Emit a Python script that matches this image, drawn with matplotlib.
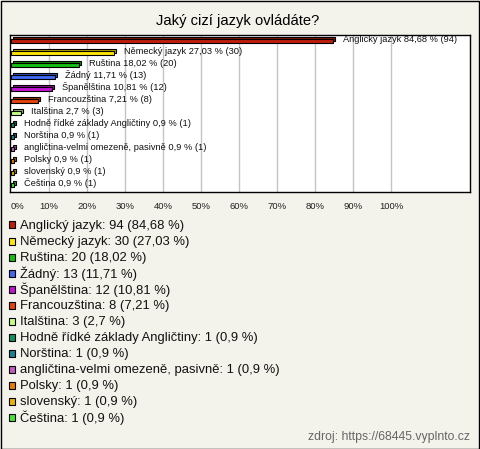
import matplotlib
matplotlib.use('Agg')
import matplotlib.pyplot as plt
import matplotlib.transforms as mtransforms
from matplotlib.patches import Rectangle
import matplotlib.colors as mcolors
import numpy as np

plt.rcParams['font.family'] = ['Liberation Sans', 'DejaVu Sans']

# Data
categories = [
    "Anglický jazyk", "Německý jazyk", "Ruština", "Žádný", "Španělština",
    "Francouzština", "Italština", "Hodně řídké základy Angličtiny", "Norština",
    "angličtina-velmi omezeně, pasivně", "Polsky", "slovenský", "Čeština",
]
counts = [94, 30, 20, 13, 12, 8, 3, 1, 1, 1, 1, 1, 1]
percents = [84.68, 27.03, 18.02, 11.71, 10.81, 7.21, 2.7, 0.9, 0.9, 0.9, 0.9, 0.9, 0.9]
colors = [
    "#bf1d0e", "#ffe60a", "#12bf12", "#4169ee", "#c214d2", "#e2440f", "#c4ff82",
    "#119163", "#1f7f92", "#c25cc4", "#e47c06", "#e4b406", "#45e535",
]
xticks = [0, 10, 20, 30, 40, 50, 60, 70, 80, 90, 100]

title = "Jaký cizí jazyk ovládáte?"
source = "zdroj: https://68445.vyplnto.cz"
bg = "#f3f2eb"

W, H = 480, 449
fig = plt.figure(figsize=(W / 100, H / 100), dpi=100, facecolor=bg)

# outer frame
fig.patches.append(Rectangle((0.5 / W, 0.5 / H), 1 - 1.5 / W, 1 - 1.5 / H,
                             transform=fig.transFigure, fill=False,
                             edgecolor='black', linewidth=1))

fig.text(238 / W, 1 - 21 / H, title, ha='center', va='center', fontsize=10.6)

# plot area in pixels: x 10..470, y 35..192
ax = fig.add_axes([10 / W, 1 - 192 / H, 460 / W, 157 / H])
ax.set_facecolor('white')
n = len(categories)
px_per_pct = 3.8
ax.set_xlim(-1 / px_per_pct, 459 / px_per_pct)
ax.set_ylim(n - 1 + 7.5 / 12, -5.5 / 12)
for s in ax.spines.values():
    s.set_linewidth(1)
    s.set_color('black')
ax.set_xticks(xticks)
ax.set_yticks([])
ax.tick_params(axis='x', length=0, pad=7, labelsize=6.8, labelcolor='#222222')
ax.set_xticklabels([f"{t}%" for t in xticks])
ax.get_xticklabels()[0].set_horizontalalignment('left')
for t in xticks[1:]:
    ax.axvline(t, color='#c4c4c4', linewidth=1, zorder=0)

y = np.arange(n)
bar_h = 4 / 12
shade = [tuple(np.array(mcolors.to_rgb(c)) * 0.72) for c in colors]
back = mtransforms.offset_copy(ax.transData, fig=fig, x=2, y=2, units='dots')
ax.barh(y, percents, height=bar_h, color=shade, edgecolor='black',
        linewidth=0.8, transform=back, zorder=2)
ax.barh(y, percents, height=bar_h, color=colors, edgecolor='black',
        linewidth=0.8, zorder=3)

for yi, cat, p, c in zip(y, categories, percents, counts):
    ptxt = f"{p:g}".replace('.', ',')
    ax.annotate(f"{cat} {ptxt} % ({c})", xy=(p, yi), xytext=(10, 1),
                textcoords='offset pixels', ha='left', va='center',
                fontsize=6.7, color='#111111', zorder=4)

# legend below the chart
for i, (cat, p, c, col) in enumerate(zip(categories, percents, counts, colors)):
    yc = 226 + 16 * i
    fig.patches.append(Rectangle((8.5 / W, 1 - (yc + 2.5) / H), 7 / W, 7 / H,
                                 transform=fig.transFigure, facecolor=col,
                                 edgecolor='black', linewidth=0.8))
    ptxt = f"{p:g}".replace('.', ',')
    fig.text(20 / W, 1 - yc / H, f"{cat}: {c} ({ptxt} %)", ha='left',
             va='center', fontsize=9.4, color='#111111')

fig.text(470 / W, 1 - 437 / H, source, ha='right', va='center',
         fontsize=8.8, color='#666666')

fig.savefig('out.png', dpi=100, facecolor=bg)
